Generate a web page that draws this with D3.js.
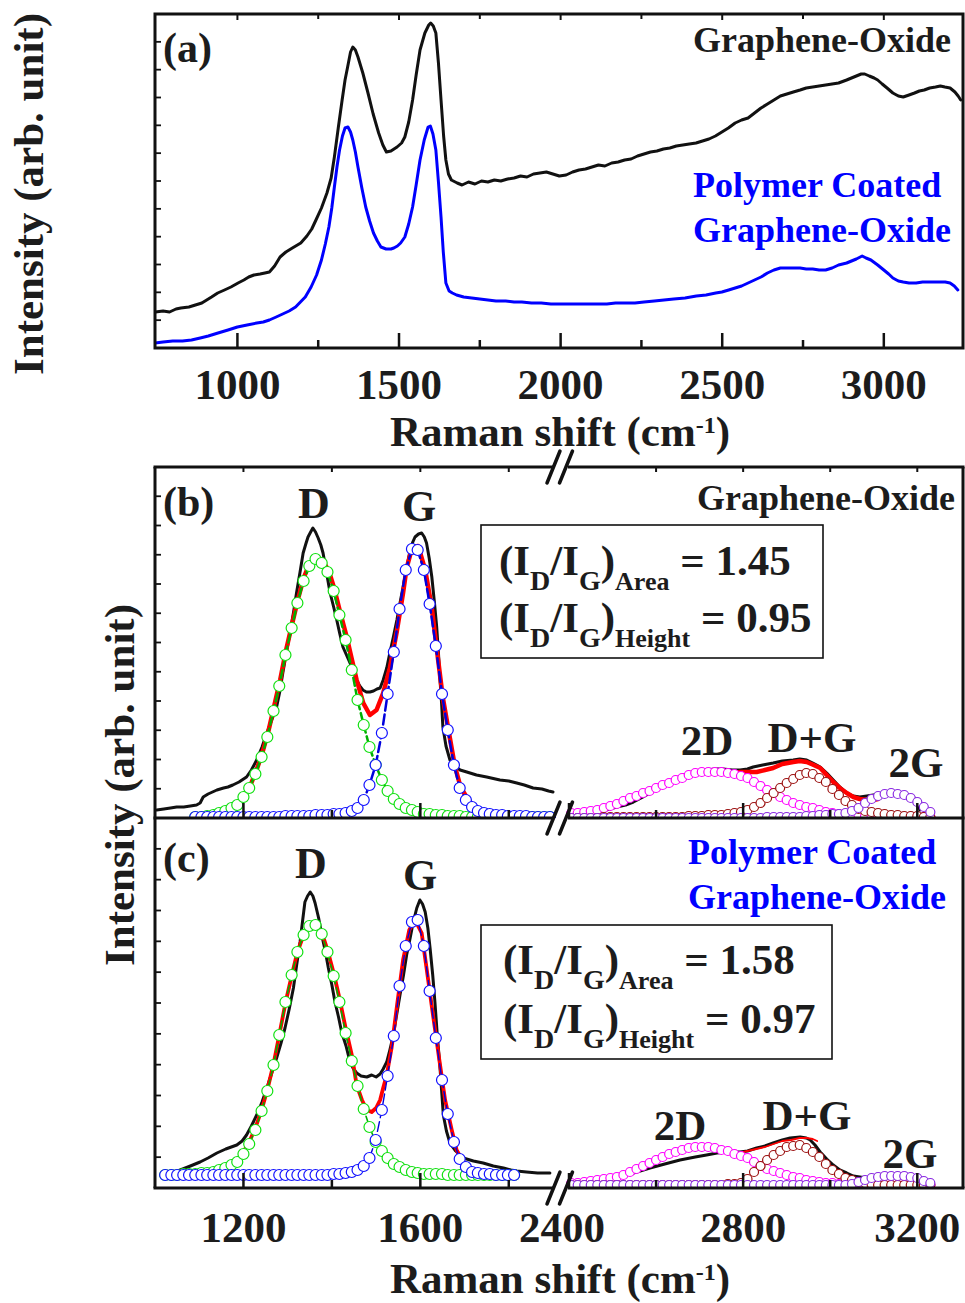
<!DOCTYPE html>
<html><head><meta charset="utf-8">
<script src="https://cdn.jsdelivr.net/npm/d3@7"></script>
<style>
body{margin:0;background:#fff}
svg{display:block}
text{font-family:"Liberation Serif","Times New Roman",serif;font-weight:bold;fill:#1c1c1c}
</style>
</head><body>
<svg id="chart" width="965" height="1303"></svg>
<script>
// ---------------- DATA ----------------
// Panel (a): raw spectra [Raman shift, intensity (arb.)]
const spectrumA_GO = [[746,36],[770,37],[790,36],[810,39],[825,40],[850,41],[870,43],[890,45],[905,48],[920,51],[939,55],[960,58],[980,61],[1002,65],[1020,68],[1035,71],[1051,73],[1070,74],[1085,75],[1099,76],[1115,82],[1132,91],[1150,96],[1170,100],[1196,105],[1215,112],[1230,119],[1243,128],[1260,140],[1277,155],[1290,170],[1300,191],[1312,220],[1324,248],[1333,268],[1341,281],[1350,296],[1357,301],[1365,298],[1373,291],[1388,275],[1404,255],[1420,234],[1437,215],[1450,203],[1461,196],[1475,197],[1494,201],[1508,205],[1518,211],[1530,226],[1542,248],[1553,273],[1565,298],[1580,315],[1592,323],[1598,325],[1606,322],[1614,315],[1622,285],[1630,248],[1638,212],[1645,188],[1653,174],[1662,168],[1680,165],[1695,163],[1715,166],[1735,164],[1755,167],[1775,166],[1795,168],[1815,167],[1836,169],[1856,170],[1876,172],[1896,171],[1916,174],[1936,175],[1956,176],[1976,174],[1996,172],[2017,173],[2037,176],[2057,178],[2077,179],[2097,181],[2117,183],[2137,182],[2158,185],[2178,186],[2198,188],[2218,189],[2238,192],[2258,194],[2278,196],[2298,197],[2318,199],[2338,200],[2358,202],[2378,203],[2398,204],[2419,205],[2439,207],[2459,209],[2479,212],[2499,216],[2519,220],[2540,225],[2560,228],[2580,230],[2600,235],[2620,240],[2640,244],[2660,248],[2680,252],[2700,254],[2720,256],[2741,258],[2760,260],[2780,261],[2800,262],[2820,263],[2840,264],[2860,265],[2885,268],[2900,270],[2915,272],[2930,274],[2941,274],[2955,272],[2970,270],[2981,268],[2995,264],[3010,260],[3028,255],[3045,252],[3060,251],[3078,253],[3095,255],[3110,257],[3125,258],[3142,260],[3160,261],[3175,262],[3189,261],[3205,260],[3220,256],[3230,252],[3238,248]];
const spectrumA_PGO = [[745,5],[770,6],[800,7],[830,7],[858,8],[885,10],[910,12],[940,15],[971,18],[1000,21],[1030,23],[1060,25],[1080,26],[1099,28],[1120,31],[1140,34],[1160,37],[1180,41],[1195,46],[1210,51],[1228,61],[1245,73],[1260,88],[1272,104],[1283,121],[1292,140],[1300,161],[1308,181],[1316,198],[1325,212],[1333,220],[1342,221],[1350,216],[1357,208],[1365,196],[1373,181],[1385,160],[1397,141],[1409,127],[1421,115],[1433,107],[1444,101],[1460,99],[1475,99],[1484,100],[1495,102],[1505,105],[1518,111],[1530,124],[1542,141],[1553,163],[1565,188],[1578,208],[1590,221],[1597,222],[1605,214],[1614,198],[1622,166],[1630,131],[1637,96],[1645,65],[1655,57],[1665,55],[1678,53],[1700,51],[1725,50],[1750,49],[1775,48],[1800,47],[1830,47],[1856,46],[1880,46],[1910,45],[1940,45],[1970,44],[2000,44],[2017,44],[2050,44],[2080,44],[2110,44],[2143,44],[2170,45],[2200,45],[2230,45],[2258,46],[2290,47],[2320,48],[2350,49],[2385,50],[2420,52],[2450,53],[2480,55],[2499,56],[2520,58],[2540,60],[2560,62],[2580,65],[2600,68],[2620,71],[2640,75],[2660,78],[2680,80],[2700,80],[2720,80],[2741,80],[2760,79],[2780,79],[2800,78],[2820,78],[2840,80],[2860,83],[2885,85],[2900,87],[2915,89],[2933,92],[2945,90],[2960,88],[2981,83],[3000,78],[3015,74],[3028,70],[3045,67],[3060,66],[3078,65],[3100,65],[3120,66],[3140,66],[3160,66],[3174,66],[3190,66],[3205,65],[3218,62],[3229,58]];

// Panels (b),(c): raw spectra, left (1000-1900) and right (2400-3300) parts
const rawB_left = [[1004,8],[1020,9],[1035,10],[1049,11],[1065,11],[1080,12],[1094,13],[1102,15],[1109,21],[1120,24],[1130,26],[1140,28],[1155,30],[1165,31],[1176,33],[1190,36],[1207,41],[1218,48],[1230,58],[1242,71],[1253,85],[1264,98],[1275,111],[1282,126],[1289,145],[1297,165],[1305,185],[1313,205],[1320,225],[1328,246],[1335,265],[1341,274],[1346,281],[1352,286],[1357,290],[1363,286],[1369,280],[1375,273],[1380,265],[1388,245],[1396,225],[1404,211],[1411,198],[1418,184],[1425,171],[1433,163],[1441,155],[1449,146],[1456,138],[1463,132],[1470,128],[1478,126],[1486,126],[1494,127],[1502,129],[1509,130],[1516,138],[1524,150],[1531,165],[1539,181],[1547,198],[1554,215],[1561,231],[1569,250],[1577,268],[1583,276],[1588,281],[1596,284],[1603,285],[1609,281],[1614,275],[1620,260],[1626,241],[1632,215],[1637,191],[1641,165],[1644,141],[1648,115],[1651,91],[1658,72],[1667,58],[1678,52],[1690,48],[1705,46],[1727,43],[1750,41],[1770,39],[1780,38],[1800,37],[1818,35],[1835,33],[1855,30],[1875,29],[1890,27],[1900,26]];
const rawB_right = [[2402,2],[2430,3],[2460,5],[2485,8],[2510,11],[2530,13],[2548,16],[2570,21],[2590,26],[2617,33],[2640,38],[2663,43],[2690,46],[2716,48],[2735,49],[2754,49],[2775,48],[2793,48],[2810,49],[2823,51],[2845,53],[2869,55],[2890,57],[2915,58],[2930,59],[2946,58],[2960,55],[2977,51],[2992,45],[3007,38],[3022,31],[3038,25],[3053,22],[3068,21],[3084,22],[3099,23],[3120,24],[3145,25],[3160,24],[3176,23],[3190,21],[3199,18],[3206,8]];
const rawC_left = [[1040,15],[1057,18],[1080,22],[1102,26],[1120,30],[1140,35],[1160,39],[1185,43],[1197,47],[1207,53],[1218,62],[1230,73],[1242,86],[1253,100],[1264,115],[1275,130],[1285,145],[1294,160],[1304,180],[1313,200],[1320,222],[1328,246],[1334,268],[1339,286],[1345,292],[1351,296],[1357,292],[1362,285],[1370,270],[1377,253],[1385,237],[1392,220],[1400,203],[1407,186],[1415,171],[1422,156],[1432,142],[1441,126],[1449,119],[1456,115],[1466,112],[1479,111],[1490,113],[1500,111],[1509,114],[1516,119],[1524,126],[1531,138],[1539,153],[1546,172],[1554,193],[1562,213],[1569,233],[1577,250],[1584,266],[1592,280],[1599,288],[1605,284],[1611,276],[1617,260],[1622,240],[1628,213],[1633,186],[1638,155],[1644,123],[1648,98],[1652,73],[1659,57],[1667,45],[1680,37],[1697,30],[1720,27],[1742,25],[1765,22],[1788,20],[1805,18],[1818,17],[1840,16],[1865,15],[1893,15]];
const rawC_right = [[2402,3],[2440,5],[2471,7],[2510,11],[2548,15],[2586,20],[2620,24],[2655,28],[2690,31],[2716,33],[2740,35],[2762,36],[2793,36],[2810,37],[2831,40],[2850,42],[2869,45],[2890,48],[2908,50],[2931,51],[2945,50],[2954,48],[2965,43],[2977,36],[2992,29],[3007,23],[3022,18],[3038,15],[3053,12],[3068,11],[3084,10],[3099,10],[3120,10],[3145,11],[3170,11],[3190,10],[3200,8]];

// cumulative fits (red)
const fitB_left = [[1200,22],[1215,32],[1228,46],[1242,64],[1256,86],[1269,111],[1283,138],[1296,167],[1310,194],[1324,220],[1337,241],[1349,254],[1363,261],[1378,258],[1393,247],[1405,230],[1418,207],[1433,182],[1446,157],[1456,138],[1471,115],[1486,103],[1501,108],[1516,125],[1531,150],[1547,187],[1561,225],[1569,250],[1582,271],[1595,272],[1611,248],[1626,210],[1638,166],[1651,120],[1666,82],[1678,52],[1691,31],[1707,19],[1720,12],[1735,8]];
const fitB_right = [[2780,45],[2793,46],[2812,46],[2831,46],[2850,48],[2869,50],[2890,54],[2915,56],[2930,57],[2946,56],[2962,53],[2977,50],[2992,43],[3007,36],[3022,30],[3038,25],[3053,21],[3068,19],[3084,18],[3099,18],[3110,19]];
const fitC_left = [[1150,22],[1173,25],[1186,28],[1200,36],[1213,46],[1227,60],[1241,78],[1254,98],[1268,124],[1281,153],[1295,185],[1309,212],[1322,236],[1336,253],[1349,262],[1363,264],[1377,256],[1390,238],[1404,215],[1417,190],[1431,160],[1445,133],[1456,103],[1468,88],[1479,78],[1490,76],[1500,80],[1509,88],[1516,100],[1524,113],[1535,140],[1548,185],[1561,228],[1575,258],[1588,268],[1603,255],[1614,220],[1628,175],[1643,128],[1656,88],[1671,58],[1682,38],[1696,27],[1708,21],[1724,17]];
const fitC_right = [[2790,35],[2810,37],[2830,39],[2850,41],[2870,44],[2890,47],[2910,48],[2930,50],[2946,50],[2960,49],[2970,47]];

// fitted components (open circles), sampled on shared grids
const gridLeft = [1023,1037,1050,1064,1077,1091,1105,1118,1132,1145,1159,1173,1186,1200,1213,1227,1241,1254,1268,1281,1295,1309,1322,1336,1349,1363,1377,1390,1404,1417,1431,1445,1458,1472,1485,1499,1513,1526,1540,1553,1567,1581,1594,1608,1621,1635,1649,1662,1676,1689,1703,1717,1730,1744,1757,1771,1785,1798,1812,1825,1839,1853,1866,1880,1893];
const bandD_B = [null,null,null,null,null,1,1,2,3,5,7,10,13,21,30,44,61,81,107,132,163,190,215,237,252,259,255,246,227,203,178,148,118,93,71,53,38,27,19,14,10,8,6,4,4,3,3,2,2,2,1,1,1,1,1,1,1,1,1,1,1,1,1,1,1];
const bandG_B = [null,null,null,null,null,1,1,1,1,1,1,1,1,1,1,1,1,1,1,1,2,2,2,2,2,3,3,3,4,4,5,7,10,18,33,53,85,124,166,209,248,269,268,248,214,172,124,88,53,30,18,11,7,5,4,3,3,2,2,2,2,1,1,1,1];
const bandD_C = [13,13,13,14,14,14,15,15,16,18,20,23,26,34,44,58,77,97,123,153,186,213,236,253,262,263,254,236,212,186,155,127,102,79,61,46,37,30,24,21,18,16,15,14,14,14,14,13,13,13,13,13,13,13,13,13,13,13,13,null,null,null,null,null,null];
const bandG_C = [13,13,13,13,13,13,13,13,13,13,13,13,13,13,13,13,13,13,13,13,13,13,13,13,13,13,13,13,14,14,15,16,18,22,30,48,78,112,152,202,242,266,268,242,197,150,108,74,46,29,21,16,15,14,14,13,13,13,13,null,null,null,null,null,null];

const gridRight = [2405,2420,2435,2450,2465,2480,2495,2510,2525,2540,2555,2570,2585,2600,2615,2630,2645,2660,2675,2690,2705,2720,2735,2750,2765,2780,2795,2810,2825,2840,2855,2870,2885,2900,2915,2930,2945,2960,2975,2990,3005,3020,3035,3050,3065,3080,3095,3110,3125,3140,3155,3170,3185,3200,3215,3230];
const band2D_B = [5,5,6,7,8,10,12,14,17,20,22,25,27,30,33,35,38,40,43,45,46,46,46,46,45,44,42,40,36,32,28,25,21,18,15,13,11,10,8,6,5,4,4,3,3,2,2,2,1,1,1,1,1,1,1,1];
const bandDG_B = [0,0,0,0,0,1,1,1,1,1,1,1,1,1,1,1,1,1,2,2,2,3,3,3,4,5,6,8,11,15,20,25,30,35,39,43,45,44,40,36,29,23,17,13,9,7,6,5,4,3,3,2,2,2,1,1];
const band2G_B = [0,0,0,0,0,0,0,0,0,0,0,0,0,0,0,0,0,0,0,0,0,0,0,0,0,0,0,0,0,0,1,1,1,1,1,1,2,2,3,3,4,4,5,7,10,15,19,22,24,25,24,23,20,16,11,6];
const band2D_C = [5,5,6,7,8,9,10,11,13,16,19,22,25,28,31,34,36,38,40,41,41,41,40,38,37,34,32,30,26,22,19,17,15,13,11,10,8,7,6,5,5,4,4,4,3,3,3,3,3,3,3,3,3,3,3,3];
const bandDG_C = [3,3,3,3,3,3,3,3,3,3,3,3,3,3,3,3,3,3,3,3,3,3,3,3,4,4,5,9,16,22,28,33,37,41,42,43,40,36,31,24,18,14,10,8,6,5,4,3,3,3,3,3,3,3,3,3];
const band2G_C = [3,3,3,3,3,3,3,3,3,3,3,3,3,3,3,3,3,3,3,3,3,3,3,3,3,3,3,3,3,3,3,3,3,3,3,3,3,3,3,3,3,3,3,4,6,8,10,11,12,12,12,12,11,10,7,5];

// axis ticks and labels
const ticksA_major = [1000,1500,2000,2500,3000];
const ticksA_minor = [1250,1750,2250,2750];
const ticksL_major = [1200,1600];
const ticksL_minor = [1400,1800];
const ticksR_major = [2400,2800,3200];
const ticksR_minor = [2600,3000];
const ratioArea = ["1.45","1.58"];
const ratioHeight = ["0.95","0.97"];

// ---------------- DRAWING ----------------
const svg = d3.select("#chart");
const INK = "#111";
const BLUE = "#0000ff";

// scales
const xA = d3.scaleLinear().domain([745,3245]).range([155,963]);
const yA = d3.scaleLinear().domain([0,334]).range([348,14]);
const xL = d3.scaleLinear().domain([1000,1900]).range([155,553]);
const xR = d3.scaleLinear().domain([2400,3305]).range([569,963]);
const yB = d3.scaleLinear().domain([0,351]).range([818,467]);
const yC = d3.scaleLinear().domain([0,370]).range([1188,818]);

const defs = svg.append("defs");
function clip(id,x,y,w,h){defs.append("clipPath").attr("id",id).append("rect").attr("x",x).attr("y",y).attr("width",w).attr("height",h);}
clip("cA",155,14,808,334);
clip("cBL",155,467,401,351); clip("cBR",566,467,397,351);
clip("cCL",155,818,401,370); clip("cCR",566,818,397,370);

function drawLine(g,data,xs,ys,color,w,dash){
  const p = g.append("path").datum(data)
    .attr("d", d3.line().x(d=>xs(d[0])).y(d=>ys(d[1])))
    .attr("fill","none").attr("stroke",color).attr("stroke-width",w)
    .attr("stroke-linejoin","round").attr("stroke-linecap","round");
  if(dash) p.attr("stroke-dasharray",dash);
  return p;
}
function drawBand(g,grid,vals,xs,ys,color,r,lineOpt){
  const pts = grid.map((x,i)=>[x,vals[i]]).filter(p=>p[1]!==null);
  if(lineOpt) drawLine(g,pts,xs,ys,lineOpt.color,lineOpt.w,lineOpt.dash);
  g.selectAll(null).data(pts).enter().append("circle")
    .attr("cx",d=>xs(d[0])).attr("cy",d=>ys(d[1])).attr("r",r)
    .attr("fill","#fff").attr("stroke",color).attr("stroke-width",1.2);
}

// ---------- Panel (a) ----------
const gA = svg.append("g").attr("clip-path","url(#cA)");
drawLine(gA,spectrumA_GO,xA,yA,INK,3);
drawLine(gA,spectrumA_PGO,xA,yA,BLUE,3);
svg.append("rect").attr("x",155).attr("y",14).attr("width",808).attr("height",334)
  .attr("fill","none").attr("stroke",INK).attr("stroke-width",3);
// ticks (a)
ticksA_major.forEach(v=>{
  svg.append("line").attr("x1",xA(v)).attr("x2",xA(v)).attr("y1",348).attr("y2",333).attr("stroke",INK).attr("stroke-width",2.5);
  svg.append("line").attr("x1",xA(v)).attr("x2",xA(v)).attr("y1",14).attr("y2",20).attr("stroke",INK).attr("stroke-width",2);
  svg.append("text").attr("x",xA(v)).attr("y",399).attr("text-anchor","middle").style("font-size","43px").text(v);
});
ticksA_minor.forEach(v=>{
  svg.append("line").attr("x1",xA(v)).attr("x2",xA(v)).attr("y1",348).attr("y2",340).attr("stroke",INK).attr("stroke-width",2.5);
  svg.append("line").attr("x1",xA(v)).attr("x2",xA(v)).attr("y1",14).attr("y2",19).attr("stroke",INK).attr("stroke-width",2);
});
function leftTicks(y0,y1){
  const h=(y1-y0)/12;
  for(let i=1;i<12;i++){svg.append("line").attr("x1",155).attr("x2",161).attr("y1",y0+i*h).attr("y2",y0+i*h).attr("stroke",INK).attr("stroke-width",1.8);}
}
leftTicks(14,348);

function xTitle(y){
  const t = svg.append("text").attr("x",560).attr("y",y).attr("text-anchor","middle").style("font-size","43px");
  t.append("tspan").text("Raman shift (cm");
  t.append("tspan").attr("dy",-13).style("font-size","24px").text("-1");
  t.append("tspan").attr("dy",13).text(")");
}
xTitle(446);
svg.append("text").attr("transform","translate(43,194) rotate(-90)").attr("text-anchor","middle").style("font-size","43px").text("Intensity (arb. unit)");
svg.append("text").attr("x",163).attr("y",62).style("font-size","42px").text("(a)");
svg.append("text").attr("x",951).attr("y",52).attr("text-anchor","end").style("font-size","36px").text("Graphene-Oxide");
svg.append("text").attr("x",693).attr("y",197).style("font-size","36px").style("fill",BLUE).text("Polymer Coated");
svg.append("text").attr("x",693).attr("y",242).style("font-size","36px").style("fill",BLUE).text("Graphene-Oxide");

// ---------- Panels (b),(c) ----------
function panel(ys, clipL, clipR, rawLeft, rawRight, fitLeft, fitRight, bD, bG, b2D, bDG, b2G, thick){
  const gl = svg.append("g").attr("clip-path",`url(#${clipL})`);
  drawLine(gl,rawLeft,xL,ys,INK,3);
  drawLine(gl,fitLeft,xL,ys,"#ff0000",thick?4.5:3.8);
  drawBand(gl,gridLeft,bD,xL,ys,"#10e010",5.5,{color:"#00b000",w:thick?2.5:1.6,dash:"8,4"});
  drawBand(gl,gridLeft,bG,xL,ys,"#1010ff",5.5,{color:"#0000dd",w:thick?2.5:1.4,dash:"10,4"});
  const gr = svg.append("g").attr("clip-path",`url(#${clipR})`);
  drawLine(gr,rawRight,xR,ys,INK,3);
  drawLine(gr,fitRight,xR,ys,"#ff0000",thick?4.5:1.8);
  drawBand(gr,gridRight,b2D,xR,ys,"#ff00ff",4.5);
  drawBand(gr,gridRight,bDG,xR,ys,"#9b1010",4.5);
  drawBand(gr,gridRight,b2G,xR,ys,"#8a2be2",4.5);
}
panel(yB,"cBL","cBR",rawB_left,rawB_right,fitB_left,fitB_right,bandD_B,bandG_B,band2D_B,bandDG_B,band2G_B,true);
panel(yC,"cCL","cCR",rawC_left,rawC_right,fitC_left,fitC_right,bandD_C,bandG_C,band2D_C,bandDG_C,band2G_C,false);

// frames with axis break
function hLine(y){
  svg.append("line").attr("x1",153.5).attr("x2",553).attr("y1",y).attr("y2",y).attr("stroke",INK).attr("stroke-width",3);
  svg.append("line").attr("x1",568).attr("x2",964.5).attr("y1",y).attr("y2",y).attr("stroke",INK).attr("stroke-width",3);
  [553.5,566].forEach(cx=>{
    svg.append("line").attr("x1",cx-6.5).attr("y1",y+16).attr("x2",cx+6.5).attr("y2",y-16)
      .attr("stroke",INK).attr("stroke-width",3.5).attr("stroke-linecap","round");
  });
}
[467,818,1188].forEach(hLine);
svg.append("line").attr("x1",155).attr("x2",155).attr("y1",467).attr("y2",1188).attr("stroke",INK).attr("stroke-width",3);
svg.append("line").attr("x1",963).attr("x2",963).attr("y1",467).attr("y2",1188).attr("stroke",INK).attr("stroke-width",3);
leftTicks(467,818); leftTicks(818,1188);

function bottomTicks(y, withLabels){
  const mk=(xs,v,len)=>svg.append("line").attr("x1",xs(v)).attr("x2",xs(v)).attr("y1",y).attr("y2",y-len).attr("stroke",INK).attr("stroke-width",2.5);
  ticksL_major.forEach(v=>mk(xL,v,15)); ticksL_minor.forEach(v=>mk(xL,v,8));
  ticksR_major.forEach(v=>mk(xR,v,15)); ticksR_minor.forEach(v=>mk(xR,v,8));
  if(withLabels){
    const lab=(xs,v,dx)=>svg.append("text").attr("x",xs(v)+(dx||0)).attr("y",y+54).attr("text-anchor","middle").style("font-size","43px").text(v);
    ticksL_major.forEach(v=>lab(xL,v)); ticksR_major.forEach(v=>lab(xR,v,v===2400?-7:0));
  }
}
bottomTicks(818,false); bottomTicks(1188,true);
// top ticks of (b)
[...ticksL_major,...ticksL_minor].forEach(v=>svg.append("line").attr("x1",xL(v)).attr("x2",xL(v)).attr("y1",467).attr("y2",472).attr("stroke",INK).attr("stroke-width",2));
[2600,2800,3000,3200].forEach(v=>svg.append("line").attr("x1",xR(v)).attr("x2",xR(v)).attr("y1",467).attr("y2",472).attr("stroke",INK).attr("stroke-width",2));

xTitle(1293);
svg.append("text").attr("transform","translate(134,785) rotate(-90)").attr("text-anchor","middle").style("font-size","43px").text("Intensity (arb. unit)");

// labels (b)
svg.append("text").attr("x",163).attr("y",516).style("font-size","42px").text("(b)");
svg.append("text").attr("x",314).attr("y",518).attr("text-anchor","middle").style("font-size","44px").text("D");
svg.append("text").attr("x",419).attr("y",521).attr("text-anchor","middle").style("font-size","44px").text("G");
svg.append("text").attr("x",955).attr("y",510).attr("text-anchor","end").style("font-size","36px").text("Graphene-Oxide");
svg.append("text").attr("x",707).attr("y",755).attr("text-anchor","middle").style("font-size","43px").text("2D");
svg.append("text").attr("x",812).attr("y",752).attr("text-anchor","middle").style("font-size","43px").text("D+G");
svg.append("text").attr("x",916).attr("y",777).attr("text-anchor","middle").style("font-size","43px").text("2G");
// labels (c)
svg.append("text").attr("x",163).attr("y",872).style("font-size","42px").text("(c)");
svg.append("text").attr("x",311).attr("y",878).attr("text-anchor","middle").style("font-size","44px").text("D");
svg.append("text").attr("x",420).attr("y",890).attr("text-anchor","middle").style("font-size","44px").text("G");
svg.append("text").attr("x",688).attr("y",864).style("font-size","36px").style("fill",BLUE).text("Polymer Coated");
svg.append("text").attr("x",688).attr("y",909).style("font-size","36px").style("fill",BLUE).text("Graphene-Oxide");
svg.append("text").attr("x",680).attr("y",1140).attr("text-anchor","middle").style("font-size","43px").text("2D");
svg.append("text").attr("x",807).attr("y",1130).attr("text-anchor","middle").style("font-size","43px").text("D+G");
svg.append("text").attr("x",910).attr("y",1168).attr("text-anchor","middle").style("font-size","43px").text("2G");

// ratio boxes
function ratioLine(x,y,sub,val){
  const t = svg.append("text").attr("x",x).attr("y",y).style("font-size","43px");
  t.append("tspan").text("(I");
  t.append("tspan").attr("dy",15).style("font-size","28px").text("D");
  t.append("tspan").attr("dy",-15).text("/I");
  t.append("tspan").attr("dy",15).style("font-size","28px").text("G");
  t.append("tspan").attr("dy",-15).text(")");
  t.append("tspan").attr("dy",15).style("font-size","26px").text(sub);
  t.append("tspan").attr("dy",-15).text("\u00A0= "+val);
}
function ratioBox(x,y,w,h,tx,y1,y2,i){
  svg.append("rect").attr("x",x).attr("y",y).attr("width",w).attr("height",h).attr("fill","#fff").attr("stroke",INK).attr("stroke-width",1.6);
  ratioLine(tx,y1,"Area",ratioArea[i]);
  ratioLine(tx,y2,"Height",ratioHeight[i]);
}
ratioBox(481,525,342,133,499,575,632,0);
ratioBox(481,925,351,134,503,974,1033,1);
</script>
</body></html>
